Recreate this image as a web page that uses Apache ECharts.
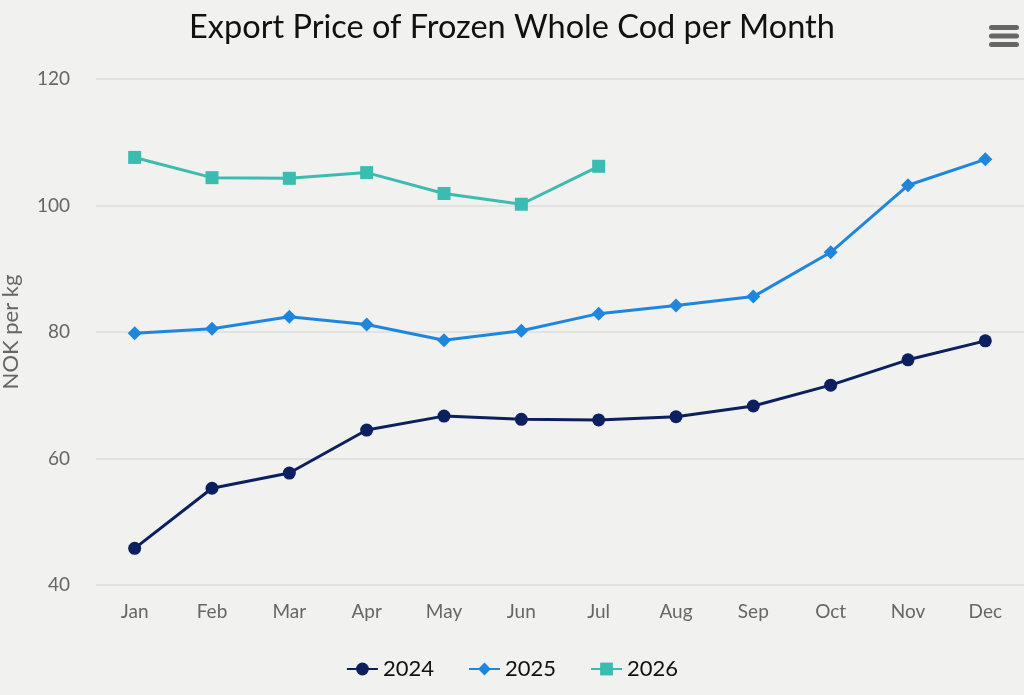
<!DOCTYPE html>
<html>
<head>
<meta charset="utf-8">
<script src="https://cdn.jsdelivr.net/npm/echarts@6/dist/echarts.min.js"></script>
<style>
html,body{margin:0;padding:0;background:#f1f1ef;}
#chart{width:1024px;height:695px;}
</style>
</head>
<body>
<div id="chart"></div>
<script>
const months = ['Jan','Feb','Mar','Apr','May','Jun','Jul','Aug','Sep','Oct','Nov','Dec'];
const s2024 = [45.8, 55.3, 57.7, 64.5, 66.7, 66.2, 66.1, 66.6, 68.3, 71.6, 75.6, 78.6];
const s2025 = [79.8, 80.5, 82.4, 81.2, 78.7, 80.2, 82.9, 84.2, 85.6, 92.6, 103.2, 107.3];
const s2026 = [107.6, 104.4, 104.3, 105.2, 101.9, 100.2, 106.2];
const yTicks = {min: 40, max: 120, interval: 20};

const chart = echarts.init(document.getElementById('chart'));
const font = 'Lato, "Open Sans", sans-serif';
chart.setOption({
  backgroundColor: '#f1f1ef',
  title: {
    text: 'Export Price of Frozen Whole Cod per Month',
    left: 'center', top: 6,
    textStyle: {fontFamily: font, fontSize: 32.5, fontWeight: 'normal', color: '#111'}
  },
  toolbox: {
    right: -10, top: 10, itemSize: 30,
    iconStyle: {color: '#666', borderColor: '#666', borderWidth: 0},
    feature: {
      myMenu: {
        show: true, title: 'Menu',
        icon: 'path://M2.5,0 H27.5 A2.5,2.5 0 0 1 27.5,5 H2.5 A2.5,2.5 0 0 1 2.5,0 Z M2.5,8.5 H27.5 A2.5,2.5 0 0 1 27.5,13.5 H2.5 A2.5,2.5 0 0 1 2.5,8.5 Z M2.5,17 H27.5 A2.5,2.5 0 0 1 27.5,22 H2.5 A2.5,2.5 0 0 1 2.5,17 Z',
        onclick: function(){}
      }
    }
  },
  legend: {
    bottom: 10, left: 'center', itemGap: 34, itemWidth: 31, itemHeight: 16,
    textStyle: {fontFamily: font, fontSize: 22, color: '#111'},
    data: ['2024','2025','2026']
  },
  grid: {left: 96, right: 0, top: 79, bottom: 110, outerBoundsMode: 'none', containLabel: false},
  xAxis: {
    type: 'category', data: months, boundaryGap: true,
    axisLine: {show: false}, axisTick: {show: false},
    axisLabel: {fontFamily: font, fontSize: 19, color: '#666', margin: 17},
    splitLine: {show: false}
  },
  yAxis: {
    type: 'value', min: yTicks.min, max: yTicks.max, interval: yTicks.interval,
    name: 'NOK per kg', nameLocation: 'middle', nameGap: 74, nameRotate: 90,
    nameTextStyle: {fontFamily: font, fontSize: 22, color: '#666'},
    axisLine: {show: false}, axisTick: {show: false},
    axisLabel: {fontFamily: font, fontSize: 19, color: '#666', margin: 26},
    splitLine: {lineStyle: {color: '#dddddb', width: 1.5}}
  },
  series: [
    {name: '2024', type: 'line', data: s2024, symbol: 'circle', symbolSize: 13,
     lineStyle: {width: 3, color: '#0c1f5e'}, itemStyle: {color: '#0c1f5e'}},
    {name: '2025', type: 'line', data: s2025, symbol: 'diamond', symbolSize: 14,
     lineStyle: {width: 3, color: '#1f86dd'}, itemStyle: {color: '#1f86dd'}},
    {name: '2026', type: 'line', data: s2026, symbol: 'rect', symbolSize: 13,
     lineStyle: {width: 3, color: '#3bbcb0'}, itemStyle: {color: '#3bbcb0'}}
  ]
});
</script>
</body>
</html>
